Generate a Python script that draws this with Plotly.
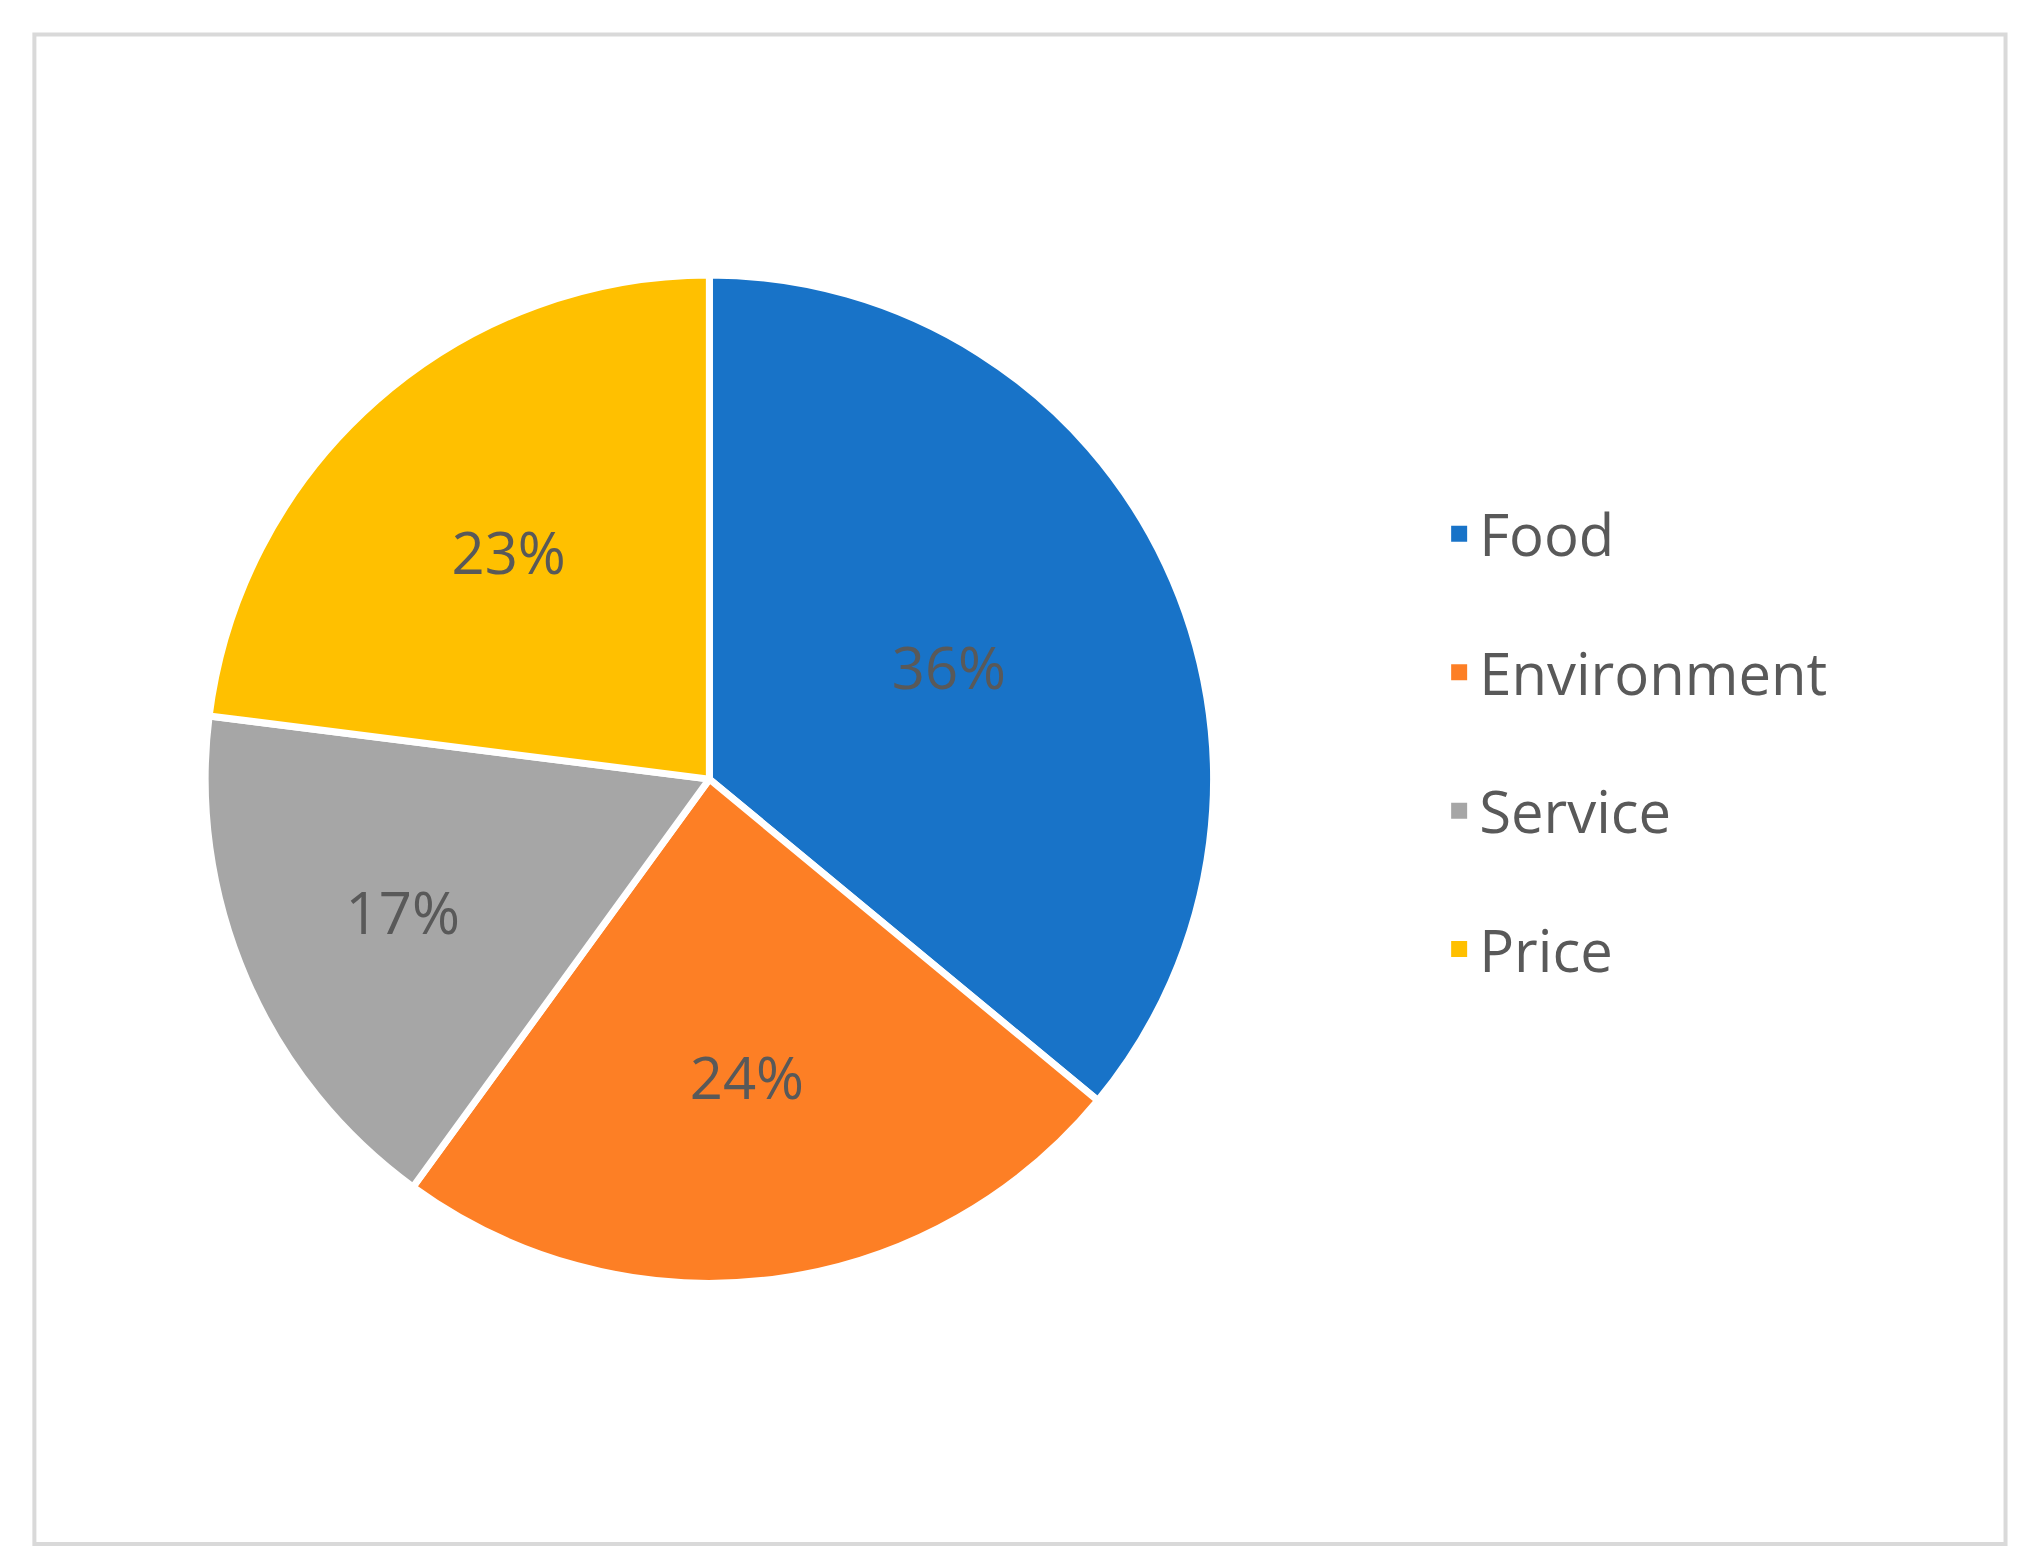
import plotly.graph_objects as go

categories = ["Food", "Environment", "Service", "Price"]
values = [36, 24, 17, 23]
colors = ["#1873C8", "#FD7F25", "#A6A6A6", "#FFC000"]

W, H = 2030, 1561
fig = go.Figure(go.Pie(
    labels=categories, values=values, sort=False, direction="clockwise", rotation=0,
    marker=dict(colors=colors, line=dict(color="white", width=7)),
    textinfo="percent", textposition="inside", insidetextorientation="horizontal",
    textfont=dict(size=58, color="#595959", family="Open Sans"),
    domain=dict(x=[0.097, 0.594], y=[0.183, 0.829]),
    showlegend=False,
))
# legend entries as separate dummy traces so the row spacing can match
for c, col in zip(categories, colors):
    fig.add_trace(go.Scatter(x=[None], y=[None], mode="markers", name=c, legendgroup=c,
                             marker=dict(symbol="square", size=28, color=col)))
fig.update_layout(
    width=W, height=H, margin=dict(l=0, r=0, t=0, b=0),
    paper_bgcolor="white", plot_bgcolor="white",
    xaxis=dict(visible=False), yaxis=dict(visible=False),
    legend=dict(x=0.705, y=0.53, xanchor="left", yanchor="middle",
                font=dict(size=58, color="#595959", family="Open Sans"),
                tracegroupgap=60),
    shapes=[dict(type="rect", xref="paper", yref="paper", x0=0.013, x1=0.984, y0=0.016, y1=0.983,
                 line=dict(color="#D9D9D9", width=4))],
)
fig.write_html("out.html")
